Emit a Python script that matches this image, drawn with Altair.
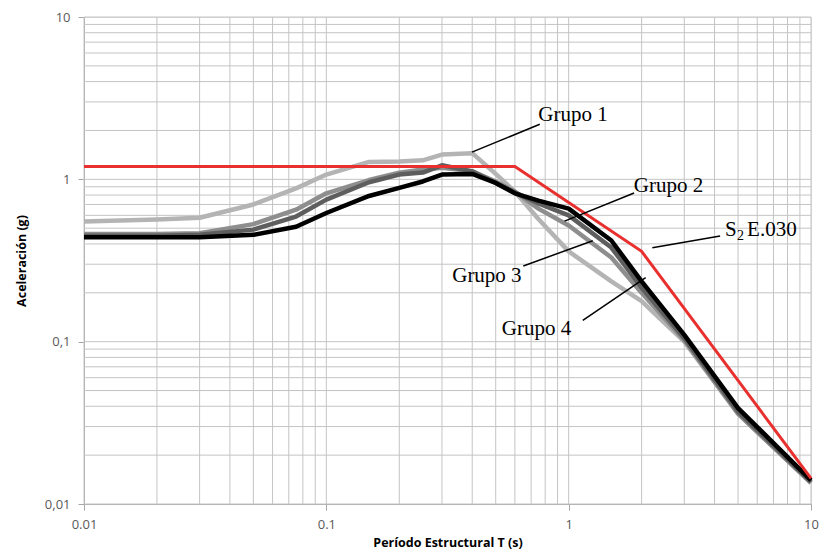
import altair as alt
import pandas as pd

# ---------------- data ----------------
periods = [0.01, 0.02, 0.03, 0.05, 0.075, 0.1, 0.15, 0.2, 0.25, 0.3, 0.4,
           0.5, 0.6, 0.75, 1.0, 1.5, 2.0, 3.0, 5.0, 10.0]
grupo1 = [0.55, 0.565, 0.58, 0.70, 0.88, 1.07, 1.28, 1.29, 1.31, 1.42, 1.45,
          1.08, 0.84, 0.57, 0.36, 0.235, 0.178, 0.10, 0.036, 0.0135]
grupo2 = [0.46, 0.46, 0.465, 0.53, 0.65, 0.82, 0.99, 1.10, 1.15, 1.18, 1.12,
          0.97, 0.84, 0.66, 0.52, 0.33, 0.20, 0.102, 0.036, 0.0135]
grupo3 = [0.45, 0.45, 0.455, 0.49, 0.59, 0.75, 0.96, 1.07, 1.10, 1.22, 1.12,
          0.95, 0.83, 0.71, 0.60, 0.38, 0.215, 0.105, 0.037, 0.0137]
grupo4 = [0.44, 0.44, 0.44, 0.455, 0.51, 0.62, 0.79, 0.885, 0.97, 1.07, 1.08,
          0.95, 0.82, 0.74, 0.66, 0.42, 0.235, 0.11, 0.039, 0.014]

norma_T = [0.01, 0.6, 2.0, 10.0]
norma_a = [1.2, 1.2, 0.36, 0.0144]

series_names = ["Grupo 1", "Grupo 2", "Grupo 3", "Grupo 4"]
series_colors = ["#b4b4b4", "#8e8e8e", "#5e5e5e", "#000000"]

major_ticks = [0.01, 0.1, 1, 10]
x_tick_labels = ["0.01", "0.1", "1", "10"]
y_tick_labels = ["0,01", "0,1", "1", "10"]

# annotation texts (anchored in data coordinates)
ann_text = ["Grupo 1", "Grupo 2", "Grupo 3", "Grupo 4", "S", "E.030"]
ann_T = [0.749, 1.856, 0.6396, 0.530, 4.42, 5.45]
ann_a = [2.505, 0.906, 0.2541, 0.1202, 0.4866, 0.4866]
ann_align = ["left", "left", "right", "left", "left", "left"]
sub_text = ["2"]
sub_T = [4.95]
sub_a = [0.450]

# leader lines
lead_T1 = [0.760, 1.862, 0.650, 1.144, 4.217]
lead_a1 = [2.184, 0.824, 0.2926, 0.1353, 0.447]
lead_T2 = [0.399, 0.962, 1.257, 2.078, 2.214]
lead_a2 = [1.47, 0.5525, 0.4189, 0.248, 0.379]

# ---------------- tables ----------------
rows = []
for name, vals in zip(series_names, [grupo1, grupo2, grupo3, grupo4]):
    for i, (t, a) in enumerate(zip(periods, vals)):
        rows.append({"T": t, "a": a, "serie": name, "i": i})
df = pd.DataFrame(rows)
df_norma = pd.DataFrame({"T": norma_T, "a": norma_a, "i": range(len(norma_T))})

grid_vals = []
for d in [0.01, 0.1, 1]:
    for m in range(1, 10):
        grid_vals.append(round(d * m, 6))
grid_vals.append(10)
df_grid = pd.DataFrame({"v": grid_vals})

df_ann = pd.DataFrame({"txt": ann_text, "T": ann_T, "a": ann_a, "al": ann_align})
df_sub = pd.DataFrame({"txt": sub_text, "T": sub_T, "a": sub_a})
df_lead = pd.DataFrame({"T1": lead_T1, "a1": lead_a1, "T2": lead_T2, "a2": lead_a2})

# ---------------- scales / axes ----------------
xs = alt.Scale(type="log", domain=[0.01, 10], nice=False)
ys = alt.Scale(type="log", domain=[0.01, 10], nice=False)

def label_expr(labels):
    return ("datum.value < 0.05 ? '%s' : datum.value < 0.5 ? '%s' : "
            "datum.value < 5 ? '%s' : '%s'" % tuple(labels))

W, H = 727, 487
LABEL_FONT = "Open Sans"
X_AXIS = alt.Axis(values=major_ticks, labelExpr=label_expr(x_tick_labels),
                  grid=False, tickSize=6, tickColor="#a6a6a6",
                  domainColor="#a6a6a6", labelFont=LABEL_FONT, labelFontSize=13,
                  labelColor="#595959", labelPadding=8, labelFlush=False,
                  title="Período Estructural T (s)", titleFont=LABEL_FONT,
                  titleFontSize=12.5, titleFontWeight="bold", titleColor="#000000",
                  titleX=W / 2, titleY=38, titleBaseline="middle")
Y_AXIS = alt.Axis(values=major_ticks, labelExpr=label_expr(y_tick_labels),
                  grid=False, tickSize=6, tickColor="#a6a6a6",
                  domainColor="#a6a6a6", labelFont=LABEL_FONT, labelFontSize=13,
                  labelColor="#595959", labelPadding=8, labelFlush=False,
                  title="Aceleración (g)", titleFont=LABEL_FONT,
                  titleFontSize=12.5, titleFontWeight="bold", titleColor="#000000",
                  titleX=-63, titleY=H / 2, titleBaseline="middle", titleAngle=-90)

X = lambda f: alt.X(f, type="quantitative", scale=xs, axis=X_AXIS)
Y = lambda f: alt.Y(f, type="quantitative", scale=ys, axis=Y_AXIS)

gx = alt.Chart(df_grid).mark_rule(color="#c4c4c4", strokeWidth=1).encode(x=X("v"))
gy = alt.Chart(df_grid).mark_rule(color="#c4c4c4", strokeWidth=1).encode(y=Y("v"))

lines = alt.Chart(df).mark_line(strokeWidth=4.5, strokeJoin="round").encode(
    x=X("T"), y=Y("a"),
    color=alt.Color("serie:N", scale=alt.Scale(domain=series_names, range=series_colors),
                    legend=None),
    order="i:Q",
)
red = alt.Chart(df_norma).mark_line(strokeWidth=3, color="#e8302e").encode(
    x=X("T"), y=Y("a"), order="i:Q")

leads = alt.Chart(df_lead).mark_rule(color="#000000", strokeWidth=1.5).encode(
    x=X("T1"), y=Y("a1"), x2="T2", y2="a2")

texts_left = alt.Chart(df_ann[df_ann.al == "left"]).mark_text(
    font="Liberation Serif", fontSize=21, align="left", baseline="middle",
    color="#000000").encode(x=X("T"), y=Y("a"), text="txt:N")
texts_right = alt.Chart(df_ann[df_ann.al == "right"]).mark_text(
    font="Liberation Serif", fontSize=21, align="right", baseline="middle",
    color="#000000").encode(x=X("T"), y=Y("a"), text="txt:N")
sub = alt.Chart(df_sub).mark_text(
    font="Liberation Serif", fontSize=14, align="left", baseline="middle",
    color="#000000").encode(x=X("T"), y=Y("a"), text="txt:N")

chart = alt.layer(gx, gy, lines, red, leads, texts_left, texts_right, sub).properties(
    width=W, height=H,
    autosize=alt.AutoSizeParams(type="none"),
    padding={"left": 76, "top": 9, "right": 8, "bottom": 45},
).configure_view(stroke=None).configure(background="#ffffff")

chart.save("out.html", embed_options={"renderer": "svg", "actions": False})
